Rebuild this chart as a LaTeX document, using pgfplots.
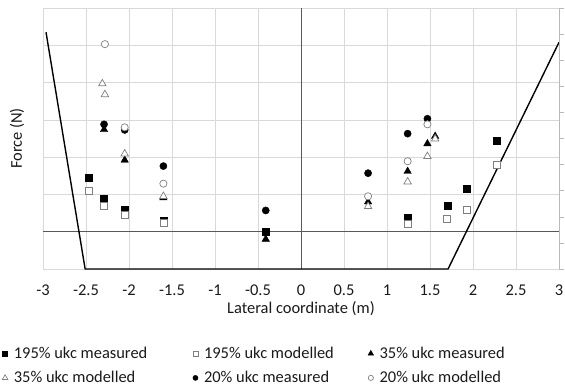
\documentclass[border=0pt]{standalone}
\usepackage{fontspec}
\setmainfont{Carlito}
\usepackage{pgfplots}
\pgfplotsset{compat=1.18}
\definecolor{gridc}{HTML}{D9D9D9}
\definecolor{axc}{HTML}{595959}
\definecolor{openc}{HTML}{7F7F7F}
\definecolor{txt}{HTML}{1A1A1A}
\pgfplotsset{legsmall/.style={legend image code/.code={\draw[##1,mark size=#1] plot coordinates {(0bp,0bp)};}}}
\begin{document}
\begin{tikzpicture}[font=\fontsize{16.5}{19.5}\selectfont]
\begin{axis}[
  name=main,
  scale only axis, width=516bp, height=261bp,
  xmin=-3, xmax=3, ymin=-1, ymax=6,
  xtick={-3,-2.5,...,3},
  xticklabels={-3,-2.5,-2,-1.5,-1,-0.5,0,0.5,1,1.5,2,2.5,3},
  ytick={-1,0,...,6}, yticklabels={},
  major tick length=0pt,
  grid=major, grid style={gridc, line width=0.6pt},
  axis line style={draw=none},
  xticklabel style={text=txt, yshift=-12bp},
  xlabel={Lateral coordinate (m)}, ylabel={Force (N)},
  xlabel style={at={(axis description cs:0.5,-0.152)}, anchor=center, text=txt},
  ylabel style={at={(axis description cs:-0.0504,0.5)}, anchor=center, text=txt},
  legend style={at={(axis description cs:-0.085,-0.283)}, anchor=north west,
    legend columns=3, draw=none, fill=none, text=txt, row sep=7.5bp,
    nodes={inner xsep=2bp},
    /tikz/every odd column/.append style={column sep=4bp}},
  legend cell align=left,
  clip=false,
]
% reference lines
\addplot[axc, line width=0.7pt, forget plot] coordinates {(0,-1) (0,6)};
\addplot[axc, line width=0.7pt, forget plot] coordinates {(-3,0) (3,0)};
% profile
\addplot[black, line width=1.4pt, forget plot] coordinates {(-2.965,5.35) (-2.51,-1) (1.71,-1) (3,5.08)};
% 195% measured
\addplot[only marks, mark=square*, mark size=3.5bp, black, mark options={fill=black}, legsmall=2.6bp]
  coordinates {(-2.47,1.44) (-2.29,0.88) (-2.05,0.59) (-1.60,0.30) (-0.41,0.01) (1.24,0.37) (1.70,0.71) (1.93,1.15) (2.28,2.45)};
\addlegendentry{\makebox[177bp][l]{195\% ukc measured}}
% 195% modelled
\addplot[only marks, mark=square*, mark size=3.5bp, openc, mark options={fill=white, line width=0.7pt}, legsmall=2.6bp]
  coordinates {(-2.47,1.10) (-2.29,0.70) (-2.05,0.44) (-1.60,0.25) (1.24,0.21) (1.70,0.35) (1.93,0.58) (2.28,1.78)};
\addlegendentry{\makebox[162bp][l]{195\% ukc modelled}}
% 35% measured
\addplot[only marks, mark=triangle*, mark size=4.3bp, black, mark options={fill=black}, legsmall=3.2bp]
  coordinates {(-2.29,2.74) (-2.05,1.92) (-1.60,0.91) (-0.41,-0.20) (0.78,0.80) (1.24,1.62) (1.47,2.36) (1.56,2.56)};
\addlegendentry{35\% ukc measured}
% 35% modelled
\addplot[only marks, mark=triangle*, mark size=4.3bp, openc, mark options={fill=white, line width=0.7pt}, legsmall=3.2bp]
  coordinates {(-2.31,3.97) (-2.28,3.68) (-2.05,2.09) (-1.60,0.95) (0.78,0.68) (1.24,1.34) (1.47,2.02) (1.56,2.49)};
\addlegendentry{35\% ukc modelled}
% 20% measured
\addplot[only marks, mark=*, mark size=3.6bp, black, mark options={fill=black}, legsmall=2.6bp]
  coordinates {(-2.29,2.88) (-2.05,2.73) (-1.60,1.76) (-0.41,0.57) (0.78,1.57) (1.24,2.63) (1.47,3.03)};
\addlegendentry{20\% ukc measured}
% 20% modelled
\addplot[only marks, mark=*, mark size=3.6bp, openc, mark options={fill=white, line width=0.7pt}, legsmall=2.6bp]
  coordinates {(-2.28,5.03) (-2.05,2.80) (-1.60,1.29) (0.78,0.95) (1.24,1.89) (1.47,2.88)};
\addlegendentry{20\% ukc modelled}
\end{axis}
\begin{axis}[
  scale only axis, width=516bp, height=261bp,
  xmin=-3, xmax=3, ymin=0, ymax=10,
  axis x line=none, axis y line*=right,
  ytick={0,1,...,10}, yticklabels={},
  tick align=outside, major tick length=5bp,
  y axis line style={color=gray!55, line width=0.6pt},
  ytick style={color=gray!55, line width=0.6pt},
]
\addplot[draw=none] coordinates {(-3,0) (3,10)};
\end{axis}
\pgfresetboundingbox
\useasboundingbox ([shift={(-43bp,8bp)}]main.north west) rectangle ([shift={(6bp,-121bp)}]main.south east);
\end{tikzpicture}
\end{document}
